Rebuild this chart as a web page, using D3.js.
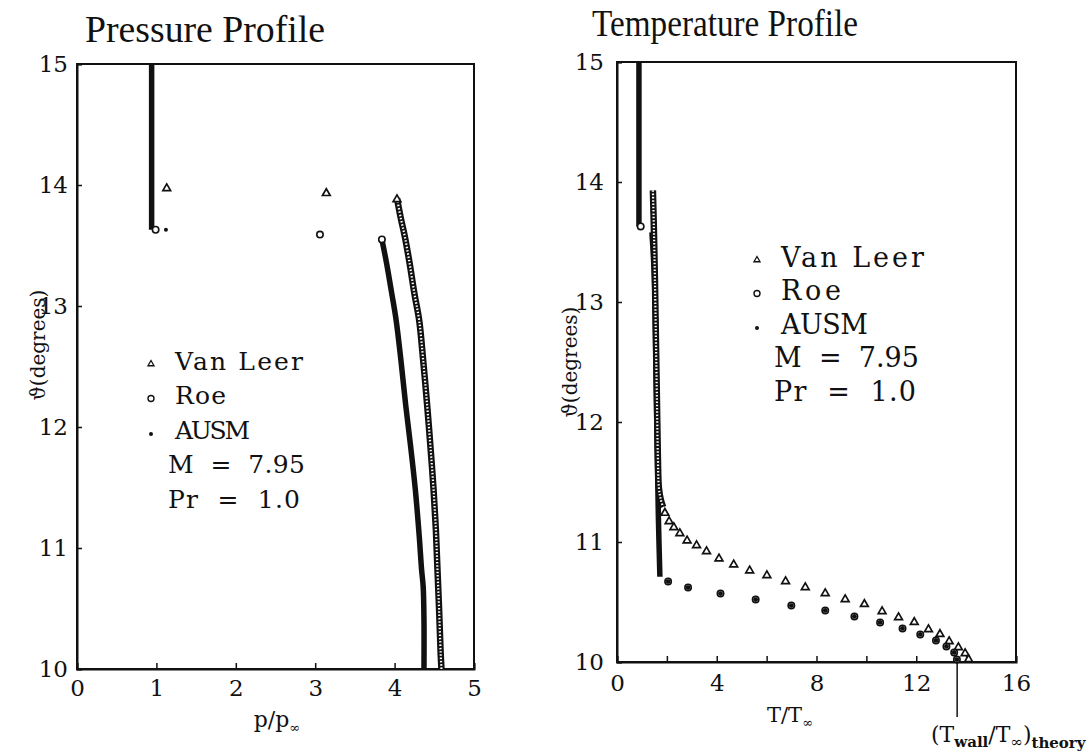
<!DOCTYPE html>
<html>
<head>
<meta charset="utf-8">
<title>Pressure and Temperature Profiles</title>
<script src="https://cdn.jsdelivr.net/npm/d3@7"></script>
<style>
  body { margin: 0; background: #fff; }
  text { font-family: "DejaVu Serif", "Liberation Serif", serif; fill: #111; }
  .title { font-family: "Liberation Serif", serif; }
  .domain { stroke: #111; stroke-width: 2; }
  .tick line { stroke: #111; stroke-width: 1.5; }
  .tick text { font-size: 23px; font-family: "DejaVu Serif", serif; }
</style>
</head>
<body>
<script>

// ---- pressure profile: [p/p_inf, theta (deg)] ----
var pFreestream   = [[0.94, 15.0], [0.94, 13.63]];
var pVanLeerShock = [[4.03, 13.89], [4.08, 13.72], [4.13, 13.57], [4.19, 13.35], [4.25, 13.10],
                     [4.31, 12.88], [4.36, 12.55], [4.41, 12.18], [4.45, 11.85], [4.49, 11.49],
                     [4.52, 11.15], [4.54, 10.82], [4.56, 10.50], [4.58, 10.13], [4.59, 10.0]];
var pRoeShock     = [[3.84, 13.55], [3.90, 13.35], [3.96, 13.12], [4.02, 12.88], [4.08, 12.55],
                     [4.14, 12.18], [4.20, 11.85], [4.26, 11.49], [4.31, 11.10], [4.34, 10.82],
                     [4.36, 10.68], [4.37, 10.40], [4.37, 10.0]];
var pVanLeerPts   = [[1.13, 13.98], [3.14, 13.94], [4.03, 13.89]];
var pRoePts       = [[0.99, 13.63], [3.06, 13.59], [3.84, 13.55]];
var pAusmPts      = [[1.12, 13.63]];
var pTicks        = [0, 1, 2, 3, 4, 5];

// ---- temperature profile: [T/T_inf, theta (deg)] ----
var tFreestream   = [[0.88, 15.0], [0.88, 13.63]];
var tVanLeerShock = [[1.44, 13.93], [1.48, 13.60], [1.52, 13.20], [1.56, 12.70], [1.60, 12.20],
                     [1.64, 11.70], [1.68, 11.45], [1.76, 11.35], [1.85, 11.29]];
var tRoeShock     = [[1.40, 13.58], [1.50, 13.20], [1.56, 12.50], [1.61, 11.80], [1.66, 11.20],
                     [1.72, 10.71]];
var tVanLeerPts   = [[1.92, 11.25], [2.09, 11.18], [2.28, 11.13], [2.52, 11.08], [2.81, 11.02],
                     [3.19, 10.98], [3.59, 10.93], [4.09, 10.87], [4.68, 10.82], [5.32, 10.77],
                     [6.01, 10.73], [6.76, 10.68], [7.55, 10.63], [8.35, 10.58], [9.15, 10.53],
                     [9.92, 10.49], [10.63, 10.43], [11.29, 10.38], [11.92, 10.34], [12.49, 10.28],
                     [12.95, 10.24], [13.32, 10.18], [13.69, 10.13], [13.96, 10.08], [14.10, 10.03]];
var tRoePts       = [[0.95, 13.63], [2.05, 10.67], [2.85, 10.62], [4.15, 10.57], [5.56, 10.52],
                     [6.99, 10.47], [8.35, 10.43], [9.52, 10.38], [10.55, 10.33], [11.45, 10.28],
                     [12.16, 10.23], [12.79, 10.18], [13.21, 10.13], [13.52, 10.08], [13.63, 10.02]];
var tAusmPts      = tRoePts.slice(1);
var tWallTheory   = 13.64;
var tTicks        = [0, 2, 4, 6, 8, 10, 12, 14, 16];
var tTickLabels   = [0, 4, 8, 12, 16];

var thetaTicks = [10, 11, 12, 13, 14, 15];

var width = 1092,
  height = 754;

var svg = d3.select("body")
  .append("svg")
  .attr("width", width)
  .attr("height", height);

var tri = d3.symbol(d3.symbolTriangle, 26);

function drawChain(g, pts, x, y, hollow) {
  var line = d3.line().x(d => x(d[0])).y(d => y(d[1])).curve(d3.curveCatmullRom);
  g.append("path")
    .attr("d", line(pts))
    .attr("fill", "none")
    .attr("stroke", "#111")
    .attr("stroke-width", hollow ? 6.5 : 5.5)
    .attr("stroke-linejoin", "round");
  if (hollow)
    g.append("path")
      .attr("d", line(pts))
      .attr("fill", "none")
      .attr("stroke", "#fff")
      .attr("stroke-width", 2.2)
      .attr("stroke-dasharray", "1.5,1.8");
}

function drawTriangles(g, pts, x, y) {
  g.selectAll(null).data(pts).enter().append("path")
    .attr("d", tri)
    .attr("transform", d => "translate(" + x(d[0]) + "," + (y(d[1]) + 1) + ")")
    .attr("fill", "#fff")
    .attr("stroke", "#111")
    .attr("stroke-width", 1.7);
}

function drawCircles(g, pts, x, y) {
  g.selectAll(null).data(pts).enter().append("circle")
    .attr("cx", d => x(d[0]))
    .attr("cy", d => y(d[1]))
    .attr("r", 3.2)
    .attr("fill", "#fff")
    .attr("stroke", "#111")
    .attr("stroke-width", 1.6);
}

function drawDots(g, pts, x, y, r) {
  g.selectAll(null).data(pts).enter().append("circle")
    .attr("cx", d => x(d[0]))
    .attr("cy", d => y(d[1]))
    .attr("r", r)
    .attr("fill", "#111");
}

function drawFrame(g, x, y) {
  g.append("rect")
    .attr("x", x.range()[0])
    .attr("y", y.range()[1])
    .attr("width", x.range()[1] - x.range()[0])
    .attr("height", y.range()[0] - y.range()[1])
    .attr("fill", "none")
    .attr("stroke", "#111")
    .attr("stroke-width", 2);
}

function drawLegend(g, x0, y0, step, fs, widths) {
  var names = ["Van Leer", "Roe", "AUSM", "M  =  7.95", "Pr  =  1.0"];
  var lg = g.append("g").style("font-size", fs + "px");
  names.forEach(function(n, i) {
    var tx = i < 3 ? x0 + 24 : x0 + 17;
    lg.append("text")
      .attr("x", tx)
      .attr("y", y0 + i * step)
      .attr("dominant-baseline", "central")
      .attr("textLength", widths[i])
      .attr("lengthAdjust", "spacing")
      .style("white-space", "pre")
      .text(n);
  });
  lg.append("path").attr("d", d3.symbol(d3.symbolTriangle, 16))
    .attr("transform", "translate(" + x0 + "," + (y0 + 3) + ")")
    .attr("fill", "#fff").attr("stroke", "#111").attr("stroke-width", 1.3);
  lg.append("circle").attr("cx", x0).attr("cy", y0 + step + 3).attr("r", 3)
    .attr("fill", "#fff").attr("stroke", "#111").attr("stroke-width", 1.4);
  lg.append("circle").attr("cx", x0).attr("cy", y0 + 2 * step + 4).attr("r", 2)
    .attr("fill", "#111");
}

// ================= Pressure Profile =================
var xP = d3.scaleLinear().domain([0, 5]).range([77, 474]);
var yP = d3.scaleLinear().domain([10, 15]).range([669, 64]);
var gP = svg.append("g");

svg.append("text")
  .attr("class", "title")
  .attr("x", 85).attr("y", 42)
  .attr("textLength", 240).attr("lengthAdjust", "spacingAndGlyphs")
  .style("font-size", "38px")
  .text("Pressure Profile");

gP.append("g")
  .attr("transform", "translate(0," + yP.range()[0] + ")")
  .call(d3.axisBottom(xP).tickValues(pTicks).tickSize(-6).tickPadding(11).tickFormat(d3.format("d")));
gP.append("g")
  .attr("transform", "translate(" + xP.range()[0] + ",0)")
  .call(d3.axisLeft(yP).tickValues(thetaTicks).tickSize(-5).tickPadding(9).tickFormat(d3.format("d")));
drawFrame(gP, xP, yP);

drawChain(gP, pFreestream, xP, yP, false);
drawChain(gP, pVanLeerShock, xP, yP, true);
drawChain(gP, pRoeShock, xP, yP, false);
drawTriangles(gP, pVanLeerPts, xP, yP);
drawCircles(gP, pRoePts, xP, yP);
drawDots(gP, pAusmPts, xP, yP, 2);

gP.append("text")
  .attr("transform", "translate(38,345) rotate(-90)")
  .attr("text-anchor", "middle")
  .attr("dominant-baseline", "central")
  .style("font-size", "20px")
  .text("ϑ(degrees)");

var pl = gP.append("text")
  .attr("x", 277).attr("y", 727)
  .attr("text-anchor", "middle")
  .style("font-size", "22px");
pl.append("tspan").text("p/p");
pl.append("tspan").attr("dy", 5).style("font-size", "13px").text("∞");

drawLegend(gP, 151, 361, 34.5, 25, [128, 51, 75, 137, 132]);

// ================= Temperature Profile =================
var xT = d3.scaleLinear().domain([0, 16]).range([617, 1016]);
var yT = d3.scaleLinear().domain([10, 15]).range([662, 62]);
var gT = svg.append("g");

svg.append("text")
  .attr("class", "title")
  .attr("x", 592).attr("y", 36)
  .attr("textLength", 266).attr("lengthAdjust", "spacingAndGlyphs")
  .style("font-size", "38px")
  .text("Temperature Profile");

gT.append("g")
  .attr("transform", "translate(0," + yT.range()[0] + ")")
  .call(d3.axisBottom(xT).tickValues(tTicks).tickSize(-6).tickPadding(13)
    .tickFormat(d => tTickLabels.indexOf(d) >= 0 ? d : ""));
gT.append("g")
  .attr("transform", "translate(" + xT.range()[0] + ",0)")
  .call(d3.axisLeft(yT).tickValues(thetaTicks).tickSize(-5).tickPadding(13).tickFormat(d3.format("d")));
drawFrame(gT, xT, yT);

drawChain(gT, tFreestream, xT, yT, false);
drawChain(gT, tRoeShock, xT, yT, false);
drawChain(gT, tVanLeerShock, xT, yT, true);
drawTriangles(gT, tVanLeerPts, xT, yT);
drawCircles(gT, tRoePts, xT, yT);
drawDots(gT, tAusmPts, xT, yT, 2.4);

gT.append("text")
  .attr("transform", "translate(570,362) rotate(-90)")
  .attr("text-anchor", "middle")
  .attr("dominant-baseline", "central")
  .style("font-size", "20px")
  .text("ϑ(degrees)");

var tl = gT.append("text")
  .attr("x", 790).attr("y", 722)
  .attr("text-anchor", "middle")
  .style("font-size", "21px");
tl.append("tspan").text("T/T");
tl.append("tspan").attr("dy", 5).style("font-size", "13px").text("∞");

// theoretical wall temperature marker
gT.append("line")
  .attr("x1", xT(tWallTheory)).attr("x2", xT(tWallTheory))
  .attr("y1", yT(10)).attr("y2", 717)
  .attr("stroke", "#111").attr("stroke-width", 1.5);

var ann = gT.append("text")
  .attr("x", 931).attr("y", 742)
  .style("font-size", "22px");
ann.append("tspan").text("(T");
ann.append("tspan").attr("dy", 5).style("font-size", "15px").style("font-weight", "bold").text("wall");
ann.append("tspan").attr("dy", -5).text("/T");
ann.append("tspan").attr("dy", 5).style("font-size", "15px").text("∞");
ann.append("tspan").attr("dy", -5).text(")");
ann.append("tspan").attr("dy", 6).style("font-size", "15px").style("font-weight", "bold").text("theory");

drawLegend(gT, 757, 257, 33.5, 27, [143, 60, 87, 145, 142]);

</script>
</body>
</html>
